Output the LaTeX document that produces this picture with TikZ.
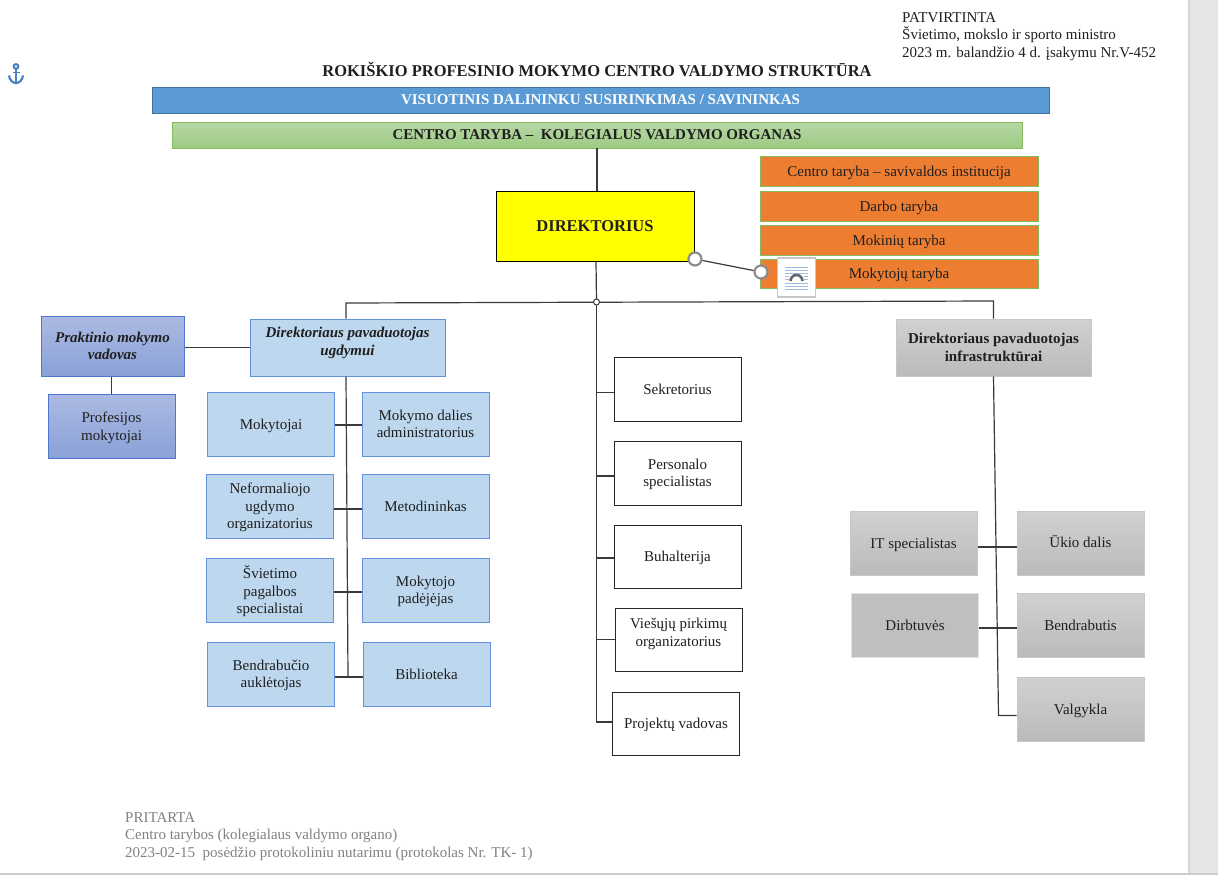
\documentclass[tikz,border=0pt]{standalone}
\usepackage{fontspec}
\setmainfont{Liberation Serif}
\usetikzlibrary{shapes,arrows}

\definecolor{barblue}{HTML}{5B9BD5}
\definecolor{barline}{HTML}{41719C}
\definecolor{barorange}{HTML}{ED7D31}
\definecolor{lightblue}{HTML}{BDD7EE}
\definecolor{blueline}{HTML}{6590DC}
\definecolor{wire}{HTML}{3A3A3A}
\definecolor{puregold}{HTML}{FFFF00}
\definecolor{greenline}{HTML}{86BC60}
\definecolor{greentop}{HTML}{B7D7A6}
\definecolor{greenbot}{HTML}{9DCB82}
\definecolor{peritop}{HTML}{ABBAE2}
\definecolor{peribot}{HTML}{8AA1D8}
\definecolor{periline}{HTML}{4F78CC}
\definecolor{stripe}{HTML}{9DBDDF}
\definecolor{anchorblue}{HTML}{4A82BD}

\tikzset{
  txt/.style={font=\fontsize{15}{17.5}\selectfont,align=center,text=black!88},
  box/.style={txt,inner sep=0pt,text depth=0pt,minimum width=127pt,minimum height=64pt},
  ublue/.style={box,draw=blueline,fill=lightblue,line width=1pt},
  periw/.style={box,draw=periline,top color=peritop,bottom color=peribot,line width=1pt},
  plain/.style={box,draw=black!85,fill=white,line width=1pt},
  gray/.style={box,draw=black!22,top color=black!18,bottom color=black!27,line width=1pt},
  council/.style={txt,draw=greenline,fill=barorange,line width=1pt,inner sep=0pt,text depth=0pt,minimum width=278pt,minimum height=30pt},
  handle/.style={circle,draw=black!45,fill=white,line width=2.2pt,inner sep=0pt,minimum size=13pt},
  wired/.style={draw=wire,line width=1.2pt}
}

\begin{document}
\begin{tikzpicture}[x=1pt,y=-1pt]
\useasboundingbox (0,0) rectangle (1218,875);
% window edges
\fill[black!10] (1188,0) rectangle (1218,875);
\fill[black!16] (1188,0) rectangle (1190,875);
\fill[black!20] (0,873) rectangle (1218,875);
% header and footer
\node[txt,anchor=north west,align=left,inner sep=0pt] (order) at (902,12) {PATVIRTINTA\\Švietimo, mokslo ir sporto ministro\\2023 m. balandžio 4 d. įsakymu Nr.V-452};
\node[txt,font=\fontsize{16.5}{19}\selectfont\bfseries] (title) at (597,69.5) {ROKIŠKIO PROFESINIO MOKYMO CENTRO VALDYMO STRUKTŪRA};
\node[txt,anchor=north west,align=left,inner sep=0pt,text=black!50] (agreed) at (125,812) {PRITARTA\\Centro tarybos (kolegialaus valdymo organo)\\2023-02-15\ \ posėdžio protokoliniu nutarimu (protokolas Nr. TK- 1)};
% top bars
\node[box,draw=barline,fill=barblue,text=white,font=\fontsize{15}{17.5}\selectfont\bfseries,minimum width=897pt,minimum height=26pt] (owners) at (600.5,100) {VISUOTINIS DALININKU SUSIRINKIMAS / SAVININKAS};
\node[box,draw=greenline,top color=greentop,bottom color=greenbot,font=\fontsize{15}{17.5}\selectfont\bfseries,minimum width=850pt,minimum height=26pt] (board) at (597,135) {CENTRO TARYBA --\ \ KOLEGIALUS VALDYMO ORGANAS};
\node[box,draw=black,fill=puregold,font=\fontsize{16.5}{19}\selectfont\bfseries,line width=1pt,minimum width=198pt,minimum height=70pt] (director) at (595,226) {DIREKTORIUS};
% councils
\node[council] (selfgov) at (899,171) {Centro taryba -- savivaldos institucija};
\node[council] (workers) at (899,206) {Darbo taryba};
\node[council] (pupils) at (899,240) {Mokinių taryba};
\node[council,minimum height=29pt] (teachers) at (899,273.5) {Mokytojų taryba};
% left side
\node[periw,font=\fontsize{15}{17.5}\selectfont\bfseries\itshape,minimum width=143pt,minimum height=60pt] (practice) at (112.5,346) {Praktinio mokymo\\vadovas};
\node[periw] (vocational) at (111.5,426) {Profesijos\\mokytojai};
\node[ublue,font=\fontsize{15}{17.5}\selectfont\bfseries\itshape,minimum width=195pt,minimum height=57pt,text depth=12pt] (deputyedu) at (347.5,347.5) {Direktoriaus pavaduotojas\\ugdymui};
\node[ublue] (mokytojai) at (271,424) {Mokytojai};
\node[ublue] (admin) at (425.5,424) {Mokymo dalies\\administratorius};
\node[ublue] (nonformal) at (270,506) {Neformaliojo\\ugdymo\\organizatorius};
\node[ublue] (methodist) at (425.5,506) {Metodininkas};
\node[ublue] (support) at (270,590) {Švietimo\\pagalbos\\specialistai};
\node[ublue] (assistant) at (425.5,590) {Mokytojo\\padėjėjas};
\node[ublue] (tutor) at (271,674) {Bendrabučio\\auklėtojas};
\node[ublue] (library) at (426.5,674) {Biblioteka};
% middle
\node[plain] (secretary) at (677.5,389) {Sekretorius};
\node[plain] (personnel) at (677.5,473) {Personalo\\specialistas};
\node[plain,minimum height=63pt] (accounting) at (677.5,556.5) {Buhalterija};
\node[plain,minimum height=63pt,text depth=14pt] (purchases) at (678.5,639.5) {Viešųjų pirkimų\\organizatorius};
\node[plain,minimum height=63pt] (projects) at (676,723.5) {Projektų vadovas};
% right side
\node[gray,font=\fontsize{15}{17.5}\selectfont\bfseries,minimum width=195pt,minimum height=57pt] (deputyinf) at (993.5,347.5) {Direktoriaus pavaduotojas\\infrastruktūrai};
\node[gray] (it) at (913.5,543) {IT specialistas};
\node[gray,text depth=3pt] (farm) at (1080.5,543) {Ūkio dalis};
\node[box,fill=black!25,draw=black!12,line width=1pt] (workshop) at (915,625.5) {Dirbtuvės};
\node[gray] (dorm) at (1080.5,625) {Bendrabutis};
\node[gray] (canteen) at (1080.5,709) {Valgykla};
% junctions
\coordinate (hub) at (596.5,302);
\coordinate (topl) at (346,303);
\coordinate (topr) at (993.5,301);
\coordinate (eduend) at (348,677);
\coordinate (infend) at (998.5,715.5);
% connectors
\draw[wired] (board.south) -- ([xshift=2pt]director.north);
\draw[wired] ([xshift=1pt]director.south) -- (hub);
\draw[wired] ([xshift=-1.5pt]deputyedu.north) -- (topl) -- (topr) -- (deputyinf.north);
\draw[wired] (practice.east |- deputyedu.west) -- (deputyedu.west);
\draw[wired] (practice.south -| vocational.north) -- (vocational.north);
\draw[wired] ([xshift=-1.5pt]deputyedu.south) -- (eduend);
\draw[wired] ([yshift=-1pt]mokytojai.east) -- ([yshift=-1pt]admin.west);
\draw[wired] ([yshift=-3pt]nonformal.east) -- ([yshift=-3pt]methodist.west);
\draw[wired] ([yshift=-2pt]support.east) -- ([yshift=-2pt]assistant.west);
\draw[wired] ([yshift=-3pt]tutor.east) -- ([yshift=-3pt]library.west);
\draw[wired] (hub) |- ([yshift=-3.5pt]secretary.west);
\draw[wired] (hub) |- ([yshift=-3pt]personnel.west);
\draw[wired] (hub) |- ([yshift=-1.5pt]accounting.west);
\draw[wired] (hub) |- (purchases.west);
\draw[wired] (hub) |- ([yshift=1.5pt]projects.west);
\draw[wired] (deputyinf.south) -- (infend) -- (infend -| canteen.west);
\draw[wired] ([yshift=-4pt]it.east) -- ([yshift=-4pt]farm.west);
\draw[wired] ([yshift=-2.5pt]workshop.east) -- ([yshift=-3pt]dorm.west);
\node[circle,draw=wire,fill=white,line width=1pt,inner sep=0pt,minimum size=6pt] (hubdot) at (hub) {};
% selection handles and layout button
\node[handle] (hdla) at (695,259) {};
\node[handle] (hdlb) at (761,272) {};
\draw[wired] (hdla) -- (hdlb);
\node[draw=black!22,fill=white,line width=1.5pt,inner sep=0pt,minimum width=38pt,minimum height=39pt] (layout) at (796.5,277.5) {};
\foreach \ly in {267,270,273,283,286,289}
  \draw[stripe,line width=1pt] (785,\ly) -- (808,\ly);
\foreach \ly in {276,279} {
  \draw[stripe,line width=1pt] (785,\ly) -- (789,\ly);
  \draw[stripe,line width=1pt] (804,\ly) -- (808,\ly);
}
\draw[black!60,line width=2.6pt] (790.5,281) arc[start angle=180,end angle=360,radius=6];
% anchor mark
\begin{scope}[draw=anchorblue,line width=2.2pt]
\draw (16,66.5) circle (2.3);
\draw (16,69) -- (16,82.5);
\draw[line width=1.5pt] (12.5,72.5) -- (19.5,72.5);
\draw (9,75.5) .. controls (9.5,80.5) and (13,83) .. (16,83) .. controls (19,83) and (22.5,80.5) .. (23,75.5);
\end{scope}
\end{tikzpicture}
\end{document}
